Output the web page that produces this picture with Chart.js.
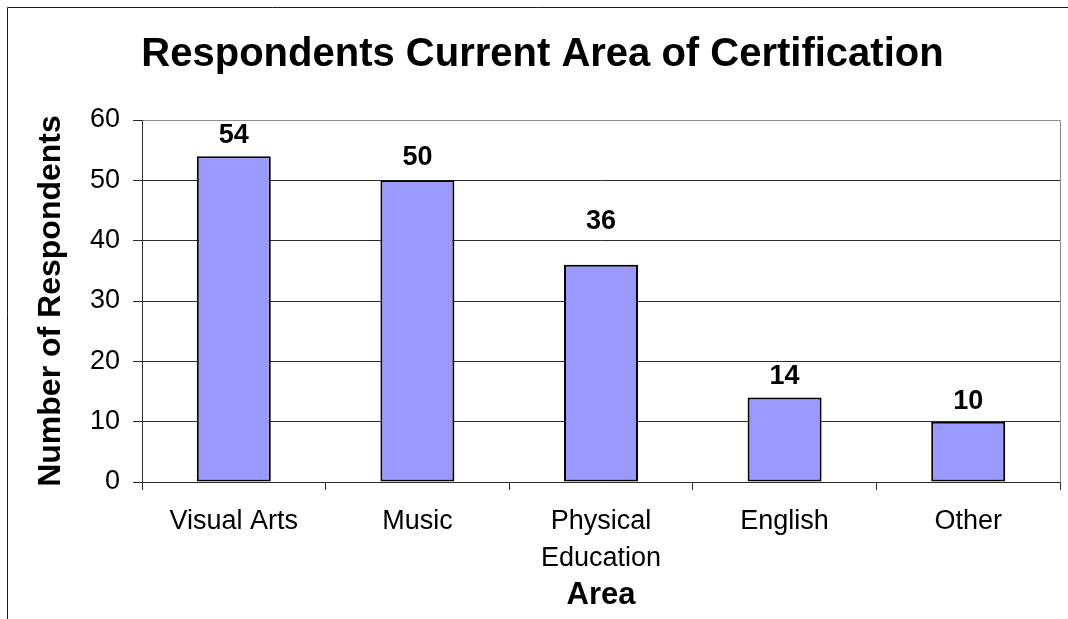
<!DOCTYPE html>
<html>
<head>
<meta charset="utf-8">
<title>Respondents Current Area of Certification</title>
<script src="https://cdn.jsdelivr.net/npm/chart.js@4/dist/chart.umd.min.js"></script>
<style>
  html, body { margin: 0; padding: 0; background: #ffffff; }
  canvas { display: block; }
</style>
</head>
<body>
<canvas id="chart" width="1068" height="619"></canvas>
<script>
// Survey results: current area of certification
const areas = ['Visual Arts', 'Music', ['Physical', 'Education'], 'English', 'Other'];
const respondents = [54, 50, 36, 14, 10];
const yTicks = [0, 10, 20, 30, 40, 50, 60];

const FONT = "'Liberation Sans', Arial, Helvetica, sans-serif";
const DARK = '#2b2b2b';
const FRAME = '#8c8c8c';

// White background, outer frame and the grey plot-area border
const framePlugin = {
  id: 'frame',
  beforeDraw(chart) {
    const { ctx, width, height } = chart;
    ctx.save();
    ctx.fillStyle = '#ffffff';
    ctx.fillRect(0, 0, width, height);
    ctx.strokeStyle = '#1a1a1a';
    ctx.lineWidth = 1;
    ctx.beginPath();
    ctx.moveTo(7.5, height);
    ctx.lineTo(7.5, 7.5);
    ctx.lineTo(width, 7.5);
    ctx.stroke();
    ctx.restore();
  },
  beforeDatasetsDraw(chart) {
    const { ctx, chartArea: a } = chart;
    ctx.save();
    ctx.strokeStyle = FRAME;
    ctx.lineWidth = 1;
    ctx.beginPath();
    ctx.moveTo(Math.round(a.left) + 0.5, Math.round(a.top) + 0.5);
    ctx.lineTo(Math.round(a.right) + 0.5, Math.round(a.top) + 0.5);
    ctx.lineTo(Math.round(a.right) + 0.5, Math.round(a.bottom) + 0.5);
    ctx.stroke();
    ctx.restore();
  }
};

// Value labels printed above each bar
const valueLabels = {
  id: 'valueLabels',
  afterDatasetsDraw(chart, args, opts) {
    const { ctx } = chart;
    const meta = chart.getDatasetMeta(0);
    const values = chart.data.datasets[0].data;
    ctx.save();
    ctx.font = opts.font;
    ctx.fillStyle = '#000000';
    ctx.textAlign = 'center';
    ctx.textBaseline = 'middle';
    meta.data.forEach((bar, i) => {
      const lift = opts.lift[i] !== undefined ? opts.lift[i] : 21;
      ctx.fillText(String(values[i]), bar.x, bar.y - lift);
    });
    ctx.restore();
  }
};

new Chart(document.getElementById('chart'), {
  type: 'bar',
  data: {
    labels: areas,
    datasets: [{
      data: respondents,
      backgroundColor: '#9999ff',
      borderColor: '#000000',
      borderWidth: 2,
      borderSkipped: false,
      categoryPercentage: 1,
      barPercentage: 0.403
    }]
  },
  options: {
    responsive: false,
    animation: false,
    events: [],
    layout: { padding: { left: 25, right: 8, top: 0, bottom: 0 } },
    plugins: {
      legend: { display: false },
      tooltip: { enabled: false },
      title: {
        display: true,
        text: 'Respondents Current Area of Certification',
        color: '#000000',
        font: { family: FONT, size: 40, weight: 'bold', lineHeight: 1.2 },
        padding: { top: 31, bottom: 41 }
      },
      valueLabels: {
        font: 'bold 27px ' + FONT,
        lift: [21, 23, 43, 21, 20]
      }
    },
    scales: {
      x: {
        afterFit(scale) { scale.height = 137; },
        grid: {
          offset: true,
          drawOnChartArea: false,
          drawTicks: true,
          tickLength: 8,
          tickColor: DARK,
          lineWidth: 1
        },
        border: { display: true, color: DARK, width: 1 },
        ticks: {
          color: '#000000',
          padding: 13,
          maxRotation: 0,
          autoSkip: false,
          font: { family: FONT, size: 27, lineHeight: 1.37 }
        },
        title: {
          display: true,
          text: 'Area',
          color: '#000000',
          font: { family: FONT, size: 31, weight: 'bold', lineHeight: 1.2 },
          padding: { top: 0, bottom: 5 }
        }
      },
      y: {
        min: 0,
        max: 60,
        afterFit(scale) { scale.width = 117; },
        afterBuildTicks(scale) { scale.ticks = yTicks.map(v => ({ value: v })); },
        grid: {
          color: ctx => (ctx.tick && ctx.tick.value === 60 ? FRAME : DARK),
          tickColor: DARK,
          tickLength: 9,
          lineWidth: 1
        },
        border: { display: true, color: DARK, width: 1 },
        ticks: {
          color: '#000000',
          padding: 13,
          font: { family: FONT, size: 27 }
        },
        title: {
          display: true,
          text: 'Number of Respondents',
          color: '#000000',
          font: { family: FONT, size: 32, weight: 'bold', lineHeight: 1.2 },
          padding: { top: 7, bottom: 0 }
        }
      }
    }
  },
  plugins: [framePlugin, valueLabels]
});
</script>
</body>
</html>
